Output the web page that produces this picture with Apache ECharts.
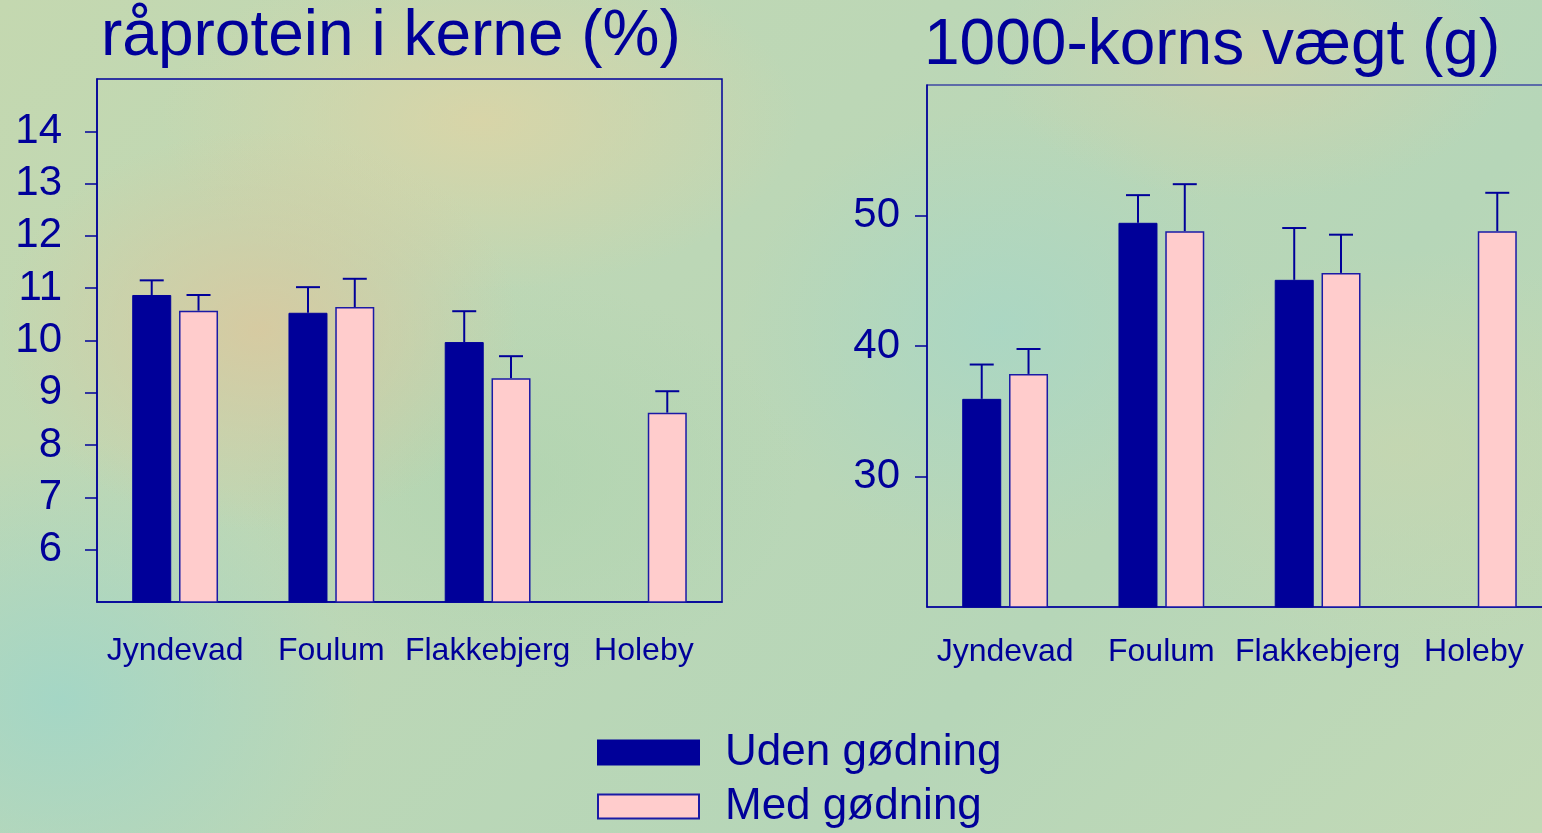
<!DOCTYPE html>
<html>
<head>
<meta charset="utf-8">
<script src="https://cdn.jsdelivr.net/npm/echarts@6/dist/echarts.min.js"></script>
<style>
html, body { margin: 0; padding: 0; width: 1542px; height: 833px; overflow: hidden; }
body {
  background:
    radial-gradient(ellipse 260px 200px at 260px 330px, rgba(218,200,158,0.85), rgba(218,200,158,0) 100%),
    radial-gradient(ellipse 320px 170px at 480px 120px, rgba(222,212,165,0.8), rgba(222,212,165,0) 100%),
    radial-gradient(ellipse 260px 140px at 1250px 60px, rgba(215,210,168,0.6), rgba(215,210,168,0) 100%),
    radial-gradient(ellipse 300px 260px at 60px 700px, rgba(160,214,200,0.85), rgba(160,214,200,0) 100%),
    radial-gradient(ellipse 260px 220px at 1000px 330px, rgba(165,215,200,0.7), rgba(165,215,200,0) 100%),
    radial-gradient(ellipse 300px 200px at 1400px 450px, rgba(200,214,175,0.7), rgba(200,214,175,0) 100%),
    radial-gradient(ellipse 280px 200px at 520px 480px, rgba(175,212,175,0.7), rgba(175,212,175,0) 100%),
    linear-gradient(135deg, #c4d8b0 0%, #bcd7b6 40%, #b6d6b8 70%, #c2d9b6 100%);
}
#chart { width: 1562px; height: 833px; }
</style>
</head>
<body>
<div id="chart"></div>
<script>
// ---- data ----
const categories = ['Jyndevad', 'Foulum', 'Flakkebjerg', 'Holeby'];
const seriesNames = ['Uden gødning', 'Med gødning'];

const proteinUden    = [10.87, 10.53, 9.97, null];
const proteinUdenErr = [11.15, 11.02, 10.56, null];
const proteinMed     = [10.57, 10.64, 9.28, 8.62];
const proteinMedErr  = [10.87, 11.18, 9.70, 9.03];

const vaegtUden    = [35.95, 49.44, 45.07, null];
const vaegtUdenErr = [38.58, 51.56, 49.04, null];
const vaegtMed     = [37.86, 48.80, 45.60, 48.80];
const vaegtMedErr  = [39.77, 52.40, 48.53, 51.74];

const proteinTicks = [6, 7, 8, 9, 10, 11, 12, 13, 14];
const vaegtTicks = [30, 40, 50];

const titles = ['råprotein i kerne (%)', '1000-korns vægt (g)'];

// ---- styling ----
const BLUE = '#00009a';
const DARK = '#000099';
const PINK = '#ffcccc';
const FONT = "'Liberation Sans', Arial, sans-serif";
const BAR_W = 39;
const BAR_GAP = 0.2;

function errData(vals, errs) {
  const out = [];
  vals.forEach((v, i) => {
    if (v != null && errs[i] != null) out.push([i, v, errs[i]]);
  });
  return out;
}

function errSeries(gridIdx, vals, errs, side) {
  return {
    type: 'custom',
    xAxisIndex: gridIdx,
    yAxisIndex: gridIdx,
    silent: true,
    z: 1,
    data: errData(vals, errs),
    renderItem: function (params, api) {
      const off = side * (BAR_W + BAR_W * BAR_GAP) / 2;
      const base = api.coord([api.value(0), api.value(1)]);
      const top = api.coord([api.value(0), api.value(2)]);
      const x = base[0] + off;
      const cap = 12;
      return {
        type: 'group',
        children: [
          { type: 'line', shape: { x1: x, y1: base[1], x2: x, y2: top[1] }, style: { stroke: BLUE, lineWidth: 2 } },
          { type: 'line', shape: { x1: x - cap, y1: top[1], x2: x + cap, y2: top[1] }, style: { stroke: BLUE, lineWidth: 2 } }
        ]
      };
    }
  };
}

function barSeries(gridIdx, name, vals, dark) {
  return {
    type: 'bar',
    name: name,
    xAxisIndex: gridIdx,
    yAxisIndex: gridIdx,
    data: vals.map(v => v == null ? '-' : v),
    barWidth: BAR_W,
    barGap: (BAR_GAP * 100) + '%',
    z: 2,
    itemStyle: dark
      ? { color: DARK, borderColor: DARK, borderWidth: 1 }
      : { color: PINK, borderColor: '#1a1aa6', borderWidth: 1.5 }
  };
}

function xAxis(gridIdx, margin) {
  return {
    type: 'category',
    gridIndex: gridIdx,
    data: categories,
    axisLine: { lineStyle: { color: BLUE, width: 1.5 } },
    axisTick: { alignWithLabel: true, length: 11, lineStyle: { color: BLUE, width: 1.5 } },
    axisLabel: { color: BLUE, fontSize: 32, fontFamily: FONT, margin: margin, interval: 0 },
    splitLine: { show: false }
  };
}

function yAxis(gridIdx, min, max, ticks, margin) {
  return {
    type: 'value',
    gridIndex: gridIdx,
    min: min, max: max,
    axisLine: { show: true, lineStyle: { color: BLUE, width: 1.5 } },
    axisTick: { show: true, length: 12, customValues: ticks, lineStyle: { color: BLUE, width: 1.5 } },
    axisLabel: { color: BLUE, fontSize: 42, fontFamily: FONT, margin: margin, customValues: ticks },
    splitLine: { show: false }
  };
}

function legend(name, top) {
  return {
    data: [name],
    left: 597,
    top: top,
    padding: 0,
    itemWidth: 101,
    itemHeight: 24,
    icon: 'rect',
    textStyle: { color: BLUE, fontSize: 44, fontFamily: FONT, lineHeight: 47, padding: [0, 0, 0, 21] }
  };
}

const chart = echarts.init(document.getElementById('chart'), null, { renderer: 'canvas' });

chart.setOption({
  backgroundColor: 'transparent',
  animation: false,
  title: [
    { text: titles[0], left: 96, top: 0, textStyle: { color: BLUE, fontSize: 64, fontWeight: 'normal', fontFamily: FONT } },
    { text: titles[1], left: 919, top: 9, textStyle: { color: BLUE, fontSize: 64, fontWeight: 'normal', fontFamily: FONT } }
  ],
  legend: [legend(seriesNames[0], 729), legend(seriesNames[1], 783)],
  grid: [
    { left: 97, top: 79, width: 625, height: 523, show: true, borderColor: BLUE, borderWidth: 1.5, backgroundColor: 'transparent' },
    { left: 927, top: 85, width: 625, height: 522, show: true, borderColor: BLUE, borderWidth: 1.2, backgroundColor: 'transparent' }
  ],
  xAxis: [xAxis(0, 33), xAxis(1, 29)],
  yAxis: [
    yAxis(0, 5, 15, proteinTicks, 35),
    yAxis(1, 20, 60, vaegtTicks, 27)
  ],
  series: [
    barSeries(0, seriesNames[0], proteinUden, true),
    barSeries(0, seriesNames[1], proteinMed, false),
    barSeries(1, seriesNames[0], vaegtUden, true),
    barSeries(1, seriesNames[1], vaegtMed, false),
    errSeries(0, proteinUden, proteinUdenErr, -1),
    errSeries(0, proteinMed, proteinMedErr, 1),
    errSeries(1, vaegtUden, vaegtUdenErr, -1),
    errSeries(1, vaegtMed, vaegtMedErr, 1)
  ]
});
</script>
</body>
</html>
